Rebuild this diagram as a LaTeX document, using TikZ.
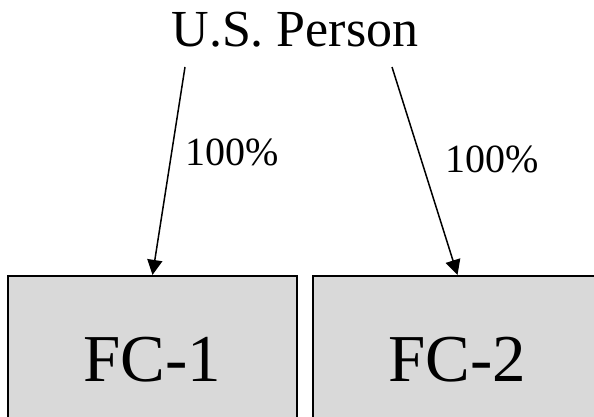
\documentclass[tikz,border=0pt]{standalone}
\usepackage{fontspec}
\setmainfont{Liberation Serif}
\usetikzlibrary{arrows.meta}
\definecolor{boxgray}{HTML}{D9D9D9}
\tikzset{
  fcbox/.style={draw=black, line width=2.2pt, fill=boxgray, minimum width=289pt, minimum height=168pt, inner sep=0pt, font=\fontsize{67}{80}\selectfont},
  own/.style={line width=1.5pt, -{Triangle[length=15pt,width=15pt]}},
  pct/.style={anchor=base, inner sep=0pt, font=\fontsize{40}{48}\selectfont}
}
\begin{document}
\begin{tikzpicture}[x=1pt,y=1pt]
\clip (0,0) rectangle (594,416);
\node[inner sep=0pt, font=\fontsize{52}{62}\selectfont, anchor=base] (up) at (295,369) {U.S. Person};
\node[fcbox] (fc1) at (152.5,56) {FC-1};
\node[fcbox] (fc2) at (457.5,56) {FC-2};
\coordinate (s1) at (185,349);
\coordinate (s2) at (392,349);
\draw[own] (s1) -- (fc1.north);
\draw[own] (s2) -- (fc2.north);
\node[pct] (p1) at (232,251) {100\%};
\node[pct] (p2) at (492.5,244) {100\%};
\end{tikzpicture}
\end{document}
